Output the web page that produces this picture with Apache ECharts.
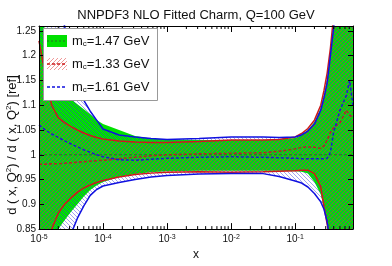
<!DOCTYPE html>
<html><head><meta charset="utf-8">
<script src="https://cdn.jsdelivr.net/npm/echarts@6/dist/echarts.min.js"></script>
<style>html,body{margin:0;padding:0;background:#fff}#c{width:392px;height:266px}</style>
</head><body><div id="c"></div>
<script>
// ---- data ----
const xVals = [1e-5, 1.26e-5, 1.58e-5, 2.0e-5, 2.51e-5, 3.16e-5, 3.98e-5, 5.01e-5, 6.31e-5, 7.94e-5,
  1e-4, 1.78e-4, 3.16e-4, 5.62e-4, 1e-3, 3.16e-3, 0.01, 0.0316, 0.0562, 0.1,
  0.126, 0.158, 0.2, 0.251, 0.282, 0.316, 0.355, 0.398, 0.501, 0.631, 0.708, 0.8];
const greenUpper = [1.35,1.24,1.19,1.155,1.125,1.112,1.102,1.092,1.082,1.07,1.062,1.05,1.038,1.033,1.031,1.03,1.03,1.03,1.031,1.034,1.04,1.05,1.066,1.095,1.12,1.155,1.205,1.265,1.4,1.5,1.5,1.5];
const greenLower = [0.70,0.76,0.81,0.85,0.868,0.885,0.90,0.916,0.929,0.938,0.945,0.955,0.961,0.965,0.967,0.968,0.968,0.968,0.968,0.967,0.966,0.962,0.945,0.92,0.893,0.862,0.82,0.78,0.7,0.6,0.6,0.6];
const greenCenter = [1,1,1,1,1,1,1,1,1,1,1,1,1,1,1,1,1,1,1,1,1,1,1,1,1,1,1,1,1,1,1,1];
const redUpper = [1.23,1.16,1.10,1.075,1.065,1.057,1.05,1.044,1.039,1.035,1.032,1.028,1.026,1.025,1.025,1.027,1.03,1.03,1.031,1.036,1.043,1.053,1.07,1.10,1.13,1.165,1.215,1.28,1.4,1.5,1.5,1.5];
const redLower = [0.78,0.815,0.85,0.882,0.9,0.913,0.924,0.933,0.939,0.944,0.948,0.955,0.96,0.963,0.965,0.966,0.965,0.966,0.967,0.968,0.969,0.969,0.962,0.935,0.895,0.86,0.82,0.78,0.7,0.6,0.6,0.6];
const redCenter = [0.981,0.981,0.982,0.982,0.983,0.984,0.985,0.986,0.987,0.988,0.989,0.992,0.995,0.998,1.0,1.002,1.003,1.004,1.007,1.012,1.015,1.016,1.015,1.013,1.018,1.03,1.045,1.055,1.065,1.09,1.08,1.075];
const blueUpper = [1.6,1.45,1.35,1.3,1.26,1.19,1.148,1.11,1.088,1.07,1.052,1.04,1.036,1.033,1.031,1.033,1.036,1.036,1.035,1.036,1.04,1.048,1.062,1.09,1.115,1.145,1.2,1.255,1.4,1.5,1.5,1.5];
const blueLower = [0.6,0.66,0.72,0.77,0.81,0.84,0.872,0.897,0.918,0.93,0.937,0.944,0.95,0.955,0.958,0.961,0.962,0.962,0.956,0.947,0.943,0.935,0.922,0.905,0.89,0.865,0.82,0.78,0.7,0.6,0.6,0.6];
const blueCenter = [1.06,1.05,1.042,1.035,1.028,1.022,1.016,1.01,1.005,1.0,0.996,0.99,0.989,0.991,0.993,0.995,0.996,0.995,0.994,0.993,0.992,0.992,0.992,0.992,0.992,0.993,1.005,1.045,1.09,1.12,1.15,1.10];
const minorTicks = [2e-5,3e-5,4e-5,5e-5,6e-5,7e-5,8e-5,9e-5,2e-4,3e-4,4e-4,5e-4,6e-4,7e-4,8e-4,9e-4,
  2e-3,3e-3,4e-3,5e-3,6e-3,7e-3,8e-3,9e-3,0.02,0.03,0.04,0.05,0.06,0.07,0.08,0.09,0.2,0.3,0.4,0.5,0.6,0.7];
const legendLabels = ['m{sub|c}=1.47 GeV', 'm{sub|c}=1.33 GeV', 'm{sub|c}=1.61 GeV'];
const titleText = 'NNPDF3 NLO Fitted Charm, Q=100 GeV';
const X_MIN = 1e-5, X_MAX = 0.8, Y_MIN = 0.85, Y_MAX = 1.26;

// ---- styles ----
const FONT = 'Liberation Sans, Arial, sans-serif';
const GREEN = '#00e000', RED = '#cc1a1a', BLUE = '#1010e0';
function hatch(color, dir, size, lw) {
  const c = document.createElement('canvas'); c.width = size; c.height = size;
  const g = c.getContext('2d'); g.strokeStyle = color; g.lineWidth = lw;
  g.beginPath();
  if (dir > 0) {
    g.moveTo(-1, size + 1); g.lineTo(size + 1, -1);
    g.moveTo(-1, 1); g.lineTo(1, -1);
    g.moveTo(size - 1, size + 1); g.lineTo(size + 1, size - 1);
  } else {
    g.moveTo(-1, -1); g.lineTo(size + 1, size + 1);
    g.moveTo(size - 1, -1); g.lineTo(size + 1, 1);
    g.moveTo(-1, size - 1); g.lineTo(1, size + 1);
  }
  g.stroke();
  return c;
}
const redHatch = { image: hatch('rgba(225,50,50,0.5)', 1, 4, 1), repeat: 'repeat' };
const blueHatch = { image: hatch('rgba(50,50,220,0.45)', -1, 4, 1), repeat: 'repeat' };

const pairs = ys => xVals.map((x, i) => [x, ys[i]]);

function band(lower, upper, fill, z) {
  return {
    type: 'custom', silent: true, z: z, clip: true,
    data: xVals.map((x, i) => [x, lower[i], upper[i]]),
    encode: { x: 0, y: [1, 2] },
    renderItem: function (params, api) {
      if (params.dataIndex !== 0) return null;
      const top = [], bot = [];
      for (let i = 0; i < xVals.length; i++) {
        top.push(api.coord([xVals[i], upper[i]]));
        bot.push(api.coord([xVals[i], lower[i]]));
      }
      const cs = params.coordSys;
      return {
        type: 'group',
        clipPath: { type: 'rect', shape: { x: cs.x, y: cs.y, width: cs.width, height: cs.height } },
        children: [{ type: 'polygon', shape: { points: top.concat(bot.reverse()) }, style: { fill: fill } }]
      };
    }
  };
}
function line(ys, color, type, width, z) {
  return { type: 'line', data: pairs(ys), symbol: 'none', silent: true, z: z,
    lineStyle: { color: color, type: type, width: width } };
}

const series = [
  band(greenLower, greenUpper, GREEN, 2),
  band(redLower, redUpper, redHatch, 3),
  band(blueLower, blueUpper, blueHatch, 4),
  line(greenCenter, '#2a6a2a', [3, 2], 1, 5),
  line(redUpper, RED, 'solid', 1.5, 6),
  line(redLower, RED, 'solid', 1.5, 6),
  line(blueUpper, BLUE, 'solid', 1.5, 6),
  line(blueLower, BLUE, 'solid', 1.5, 6),
  line(redCenter, '#b02525', [3, 2], 1.5, 7),
  line(blueCenter, '#1a1ad0', [3, 2], 1.5, 7),
  {
    type: 'custom', data: minorTicks.map(v => [v, Y_MIN]), clip: false, silent: true, z: 20,
    encode: { x: 0, y: 1 },
    renderItem: function (params, api) {
      const x = api.value(0);
      const pb = api.coord([x, Y_MIN]);
      const pt = api.coord([x, Y_MAX]);
      return { type: 'group', children: [
        { type: 'line', shape: { x1: pb[0], y1: pb[1], x2: pb[0], y2: pb[1] - 3 }, style: { stroke: '#000', lineWidth: 1 } },
        { type: 'line', shape: { x1: pt[0], y1: pt[1], x2: pt[0], y2: pt[1] + 3 }, style: { stroke: '#000', lineWidth: 1 } }
      ]};
    }
  }
];

const axisCommon = {
  type: 'log', logBase: 10, min: X_MIN, max: X_MAX,
  splitLine: { show: false }, minorTick: { show: false },
  axisLine: { show: true, lineStyle: { color: '#000', width: 1 } },
  axisTick: { show: true, inside: true, length: 6, lineStyle: { color: '#000' } },
  z: 15
};

const legendRows = [41, 64, 87];
const graphics = [
  { type: 'rect', shape: { x: 43.5, y: 28.5, width: 114, height: 72 }, style: { fill: '#fff', stroke: '#999', lineWidth: 1 }, z: 100 },
  { type: 'rect', shape: { x: 47, y: 35, width: 20, height: 12 }, style: { fill: GREEN }, z: 101 },
  { type: 'line', shape: { x1: 47, y1: 41, x2: 67, y2: 41 }, style: { stroke: '#2a6a2a', lineWidth: 1, lineDash: [2, 2] }, z: 102 },
  { type: 'rect', shape: { x: 47, y: 58, width: 20, height: 12 }, style: { fill: redHatch }, z: 101 },
  { type: 'line', shape: { x1: 47, y1: 64, x2: 67, y2: 64 }, style: { stroke: RED, lineWidth: 1.5, lineDash: [3, 2] }, z: 102 },
  { type: 'line', shape: { x1: 47, y1: 87, x2: 67, y2: 87 }, style: { stroke: BLUE, lineWidth: 1.5, lineDash: [3, 2] }, z: 102 }
].concat(legendLabels.map((t, i) => ({
  type: 'text', x: 72, y: legendRows[i], z: 103,
  style: { text: t, fill: '#111', font: '13px ' + FONT, verticalAlign: 'middle',
    rich: { sub: { fontSize: 8, fontFamily: FONT, verticalAlign: 'bottom', padding: [6, 0, 0, 0] } } }
}))).concat([
  { type: 'text', x: 12, y: 145, rotation: Math.PI / 2, z: 50,
    style: { text: 'd ( x, Q{sup|2}) / d ( x, Q{sup|2}) [ref]', fill: '#111', font: '13px ' + FONT,
      align: 'center', verticalAlign: 'middle',
      rich: { sup: { fontSize: 8, fontFamily: FONT, verticalAlign: 'top', padding: [0, 0, 6, 0] } } } }
]);

const chart = echarts.init(document.getElementById('c'), null, { renderer: 'canvas' });
chart.setOption({
  animation: false,
  backgroundColor: '#fff',
  title: { text: titleText, left: 'center', top: 4,
    textStyle: { fontSize: 13, fontWeight: 'normal', fontFamily: FONT, color: '#111' } },
  grid: { left: 39, right: 39, top: 26, bottom: 27, containLabel: false },
  xAxis: [
    Object.assign({}, axisCommon, {
      position: 'bottom', name: 'x', nameLocation: 'middle', nameGap: 17,
      nameTextStyle: { fontSize: 12, fontFamily: FONT, color: '#111' },
      axisLabel: { margin: 4, color: '#111', fontSize: 10, fontFamily: FONT, showMaxLabel: false,
        formatter: v => '10{s|' + Math.round(Math.log10(v)) + '}',
        rich: { s: { fontSize: 7, fontFamily: FONT, verticalAlign: 'top', padding: [0, 0, 5, 0] } } }
    }),
    Object.assign({}, axisCommon, { position: 'top', axisLabel: { show: false } })
  ],
  yAxis: [
    { type: 'value', min: Y_MIN, max: Y_MAX, interval: 0.05, position: 'left',
      splitLine: { show: false },
      axisLine: { show: true, lineStyle: { color: '#000' } },
      axisTick: { show: true, inside: true, length: 5, lineStyle: { color: '#000' } },
      axisLabel: { showMaxLabel: false, margin: 3, color: '#111', fontSize: 10, fontFamily: FONT },
      z: 15 },
    { type: 'value', min: Y_MIN, max: Y_MAX, interval: 0.05, position: 'right',
      splitLine: { show: false },
      axisLine: { show: true, lineStyle: { color: '#000' } },
      axisTick: { show: true, inside: true, length: 5, lineStyle: { color: '#000' } },
      axisLabel: { show: false }, z: 15 }
  ],
  series: series,
  graphic: graphics
});
</script></body></html>
